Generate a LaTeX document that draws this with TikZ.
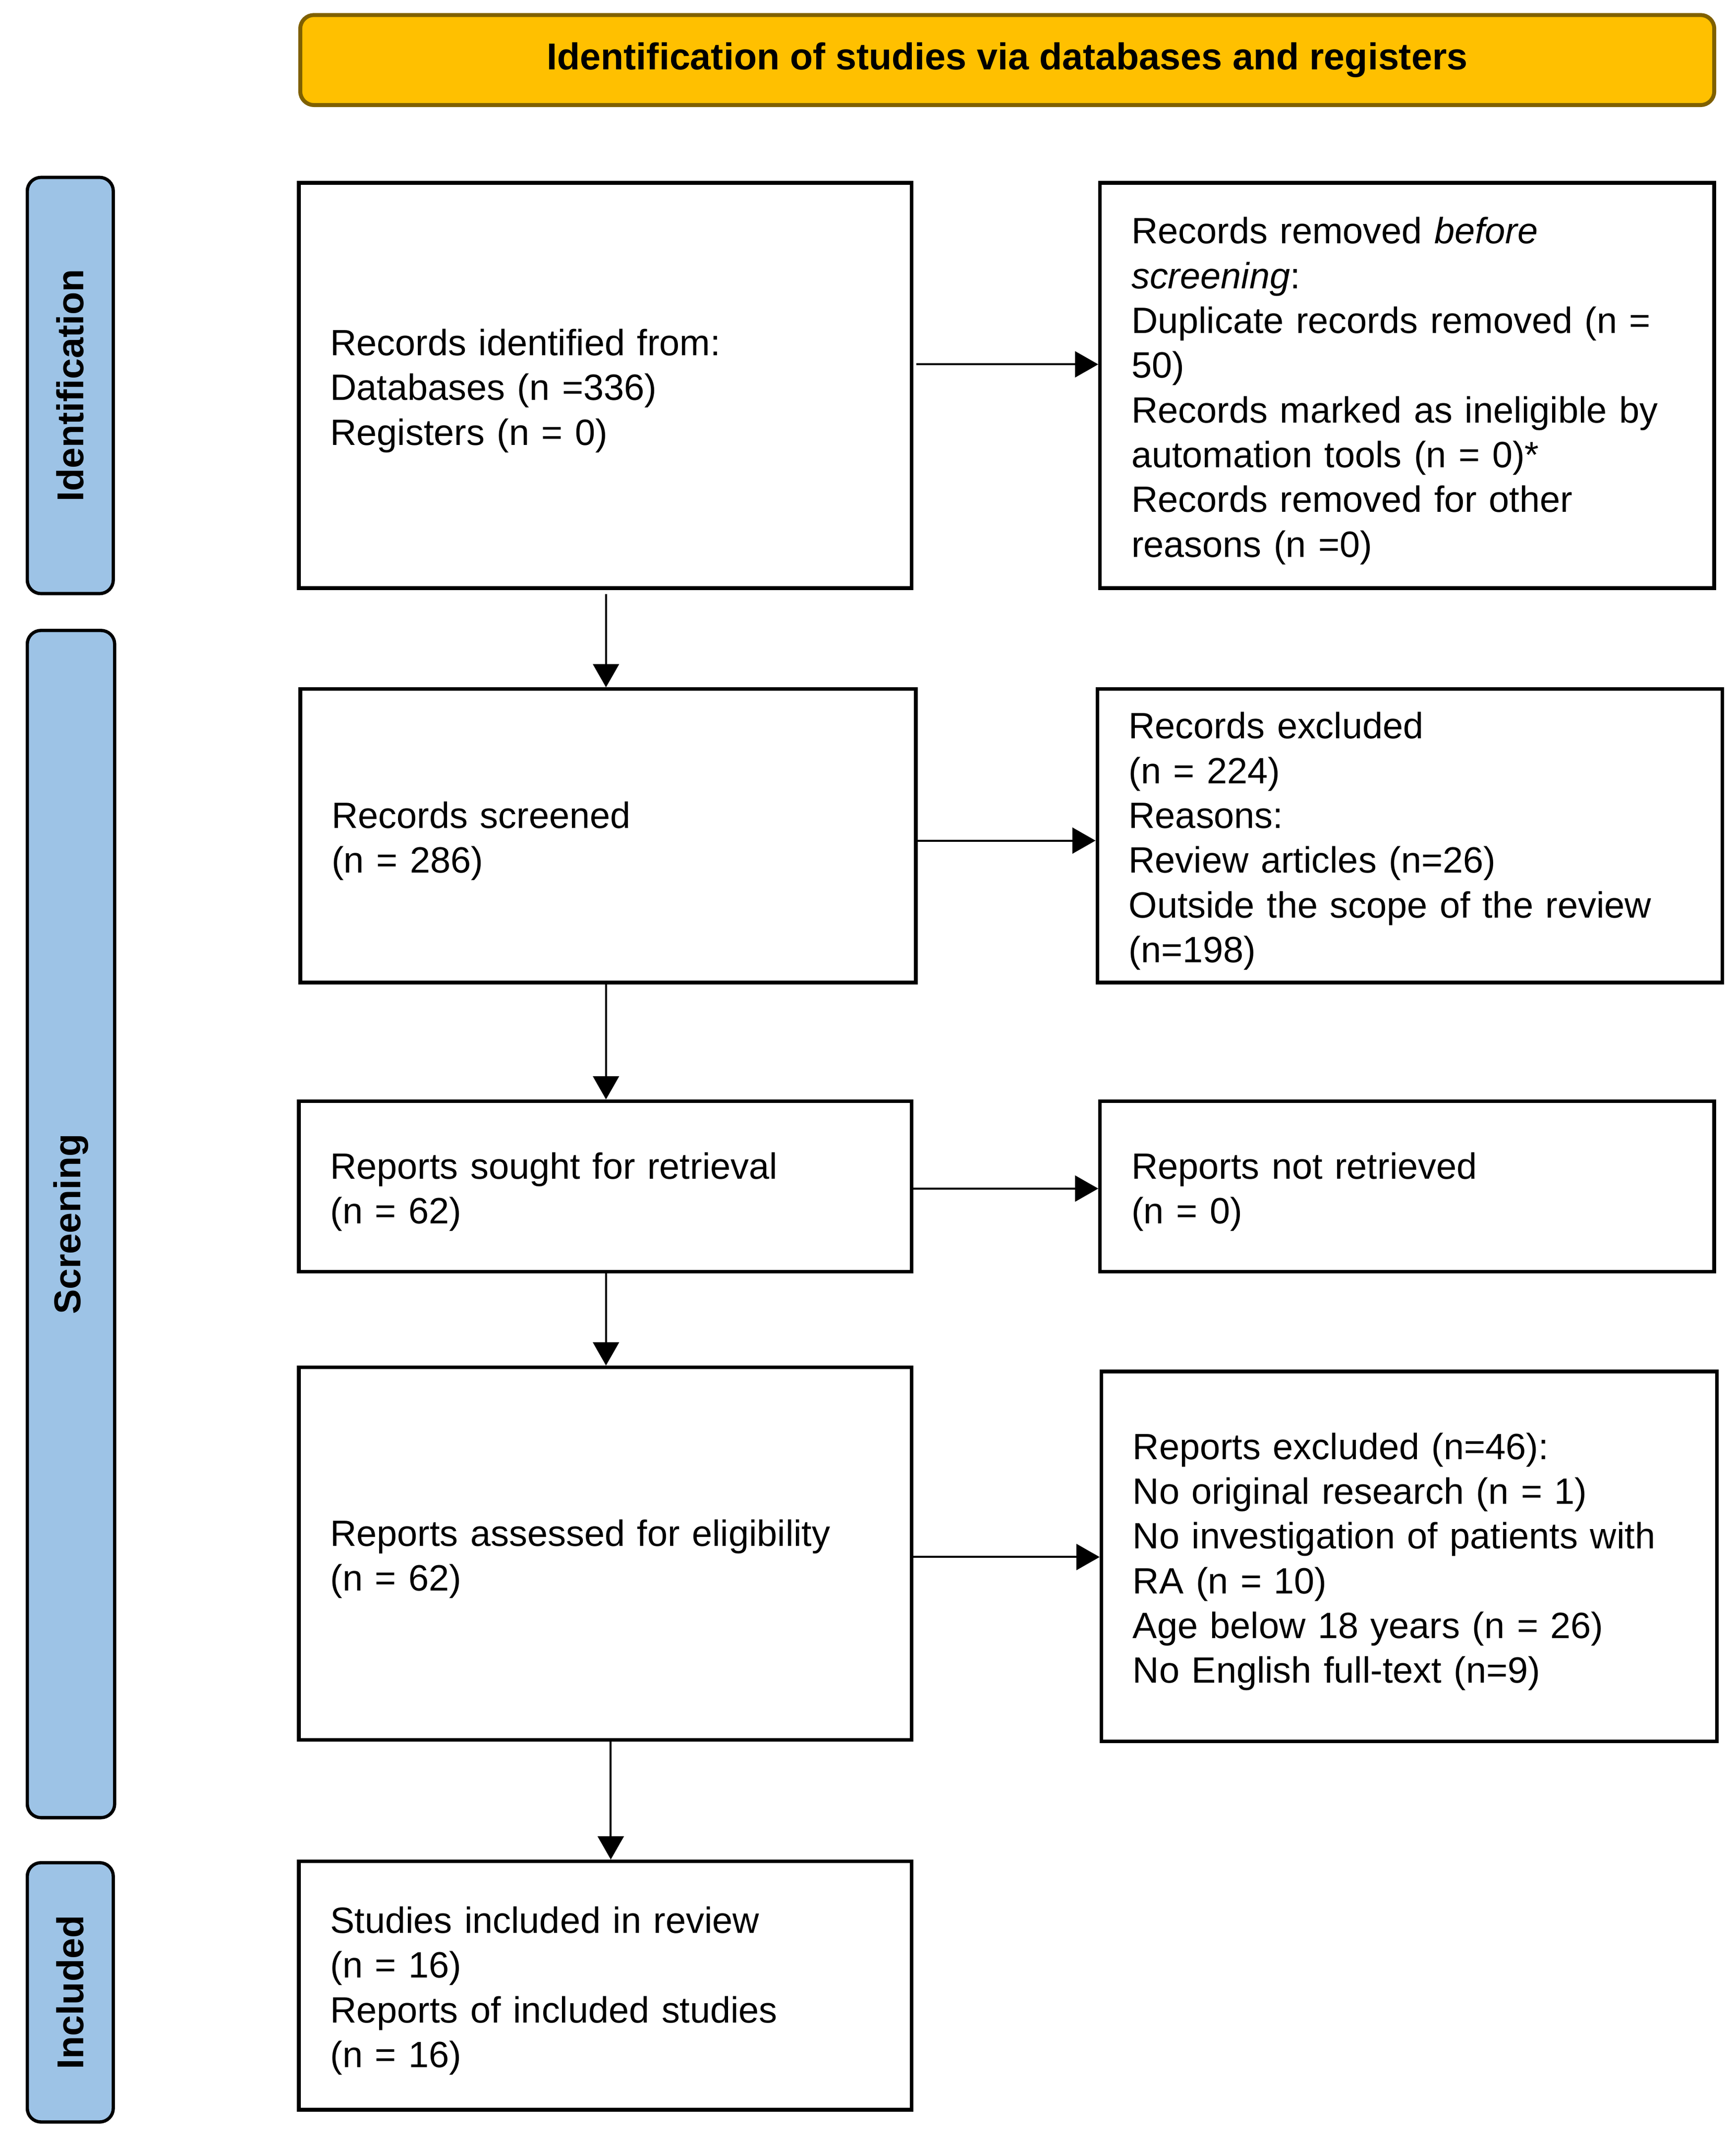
\documentclass[tikz,border=0pt]{standalone}
\usepackage{fontspec}
\setmainfont{Liberation Sans}
\usetikzlibrary{arrows.meta}
\definecolor{hdrfill}{HTML}{FFC000}
\definecolor{hdrdraw}{HTML}{7F6000}
\definecolor{sidefill}{HTML}{9DC3E6}
\begin{document}
\begin{tikzpicture}[x=0.5pt,y=-0.5pt,
  font=\fontsize{13.4pt}{16.4pt}\selectfont,
  hdr/.style={draw=hdrdraw, fill=hdrfill, line width=1.45pt, rounded corners=5pt,
    font=\fontsize{13.7pt}{16.4pt}\selectfont\bfseries, inner sep=0pt},
  side/.style={draw=black, fill=sidefill, line width=1.2pt, rounded corners=5pt,
    rotate=90, inner sep=0pt, font=\fontsize{13.7pt}{16.4pt}\selectfont\bfseries},
  pbox/.style={draw=black, line width=1.33pt, rectangle, inner xsep=11.5pt,
    inner ysep=0pt, align=left, execute at begin node={\rule{0pt}{13.6pt}}},
  arr/.style={line width=0.73pt, -{Triangle[length=8.5pt,width=9.5pt]}}]
\useasboundingbox (0,0) rectangle (1271.6,1567.5);

\node[hdr, minimum width=518pt, minimum height=33pt] (hdr) at (738,44)
  {Identification of studies via databases and registers};

\node[side, minimum width=152.5pt, minimum height=31.5pt] (sid) at (51.5,282.5) {Identification};
\node[side, minimum width=435pt, minimum height=32pt] (ssc) at (52,897) {Screening};
\node[side, minimum width=95pt, minimum height=31.5pt] (sin) at (51.5,1460) {Included};

\node[pbox, text width=201.5pt, minimum height=148.5pt] (b1) at (443.5,282.5)
  {Records identified from:\\Databases (n =336)\\Registers (n = 0)};
\node[pbox, text width=202pt, minimum height=148.5pt] (r1) at (1031,282.5)
  {Records removed \textit{before}\\\textit{screening}:\\Duplicate records removed (n =\\50)\\Records marked as ineligible by\\automation tools (n = 0)*\\Records removed for other\\reasons (n =0)};
\node[pbox, text width=202.5pt, minimum height=107.5pt] (b2) at (445.5,612.5)
  {Records screened\\(n = 286)};
\node[pbox, text width=206pt, minimum height=107.5pt] (r2) at (1033,612.5)
  {Records excluded\\(n = 224)\\Reasons:\\Review articles (n=26)\\Outside the scope of the review\\(n=198)};
\node[pbox, text width=201.5pt, minimum height=62.5pt] (b3) at (443.5,869.5)
  {Reports sought for retrieval\\(n = 62)};
\node[pbox, text width=202pt, minimum height=62.5pt] (r3) at (1031,869.5)
  {Reports not retrieved\\(n = 0)};
\node[pbox, text width=201.5pt, minimum height=136.5pt] (b4) at (443.5,1138.5)
  {Reports assessed for eligibility\\(n = 62)};
\node[pbox, text width=202.5pt, minimum height=135.5pt] (r4) at (1032.5,1140.5)
  {Reports excluded (n=46):\\No original research (n = 1)\\No investigation of patients with\\RA (n = 10)\\Age below 18 years (n = 26)\\No English full-text (n=9)};
\node[pbox, text width=201.5pt, minimum height=91pt] (b5) at (443.5,1455)
  {Studies included in review\\(n = 16)\\Reports of included studies\\(n = 16)};

\coordinate (y1) at (0,267);
\coordinate (y2) at (0,616);
\coordinate (y3) at (0,871);
\coordinate (y4) at (0,1141);
\coordinate (xa) at (444,0);
\coordinate (xb) at (447.5,0);

\draw[arr, shorten <=1pt] (b1.east |- y1) -- (r1.west |- y1);
\draw[arr] (b2.east |- y2) -- (r2.west |- y2);
\draw[arr] (b3.east |- y3) -- (r3.west |- y3);
\draw[arr] (b4.east |- y4) -- (r4.west |- y4);

\draw[arr, shorten <=1.5pt] (b1.south -| xa) -- (b2.north -| xa);
\draw[arr] (b2.south -| xa) -- (b3.north -| xa);
\draw[arr] (b3.south -| xa) -- (b4.north -| xa);
\draw[arr] (b4.south -| xb) -- (b5.north -| xb);
\end{tikzpicture}
\end{document}
